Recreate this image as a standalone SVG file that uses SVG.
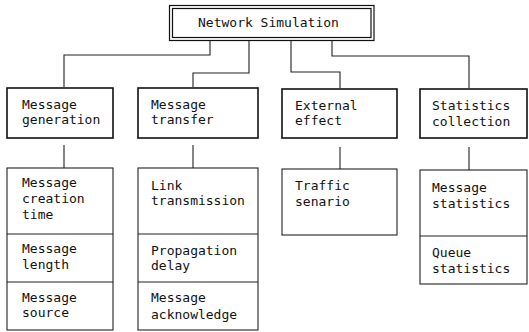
<svg xmlns="http://www.w3.org/2000/svg" width="529" height="332" viewBox="0 0 529 332">
<style>
text{font-family:"DejaVu Sans Mono","Liberation Mono",monospace;font-size:13px;fill:#111}
.main{fill:#fff;stroke:#111;stroke-width:1.6}
.sub{fill:#fff;stroke:#222;stroke-width:1.1}
.conn{fill:none;stroke:#222;stroke-width:1.1}
</style>
<rect width="529" height="332" fill="#fff"/>
<g id="root">
<rect x="169.5" y="5.5" width="204.5" height="35" fill="#fff" stroke="#111" stroke-width="1.2"/>
<rect x="172.5" y="8.5" width="198.5" height="29" fill="none" stroke="#111" stroke-width="1.2"/>
<text x="198" y="27">Network Simulation</text>
</g>
<g id="connectors">
<path class="conn" d="M210,41 V55 H64 V87"/>
<path class="conn" d="M249,41 V73 H193 V87"/>
<path class="conn" d="M291,41 V72 H340 V88"/>
<path class="conn" d="M332,41 V56 H469 V88"/>
<path class="conn" d="M64,145 V168"/>
<path class="conn" d="M193,145 V168"/>
<path class="conn" d="M340,147 V169"/>
<path class="conn" d="M469,147 V170"/>
</g>
<g id="msg-gen">
<rect class="main" x="7" y="88" width="106" height="50"/>
<text x="22" y="109">Message</text>
<text x="22" y="124">generation</text>
</g>
<g id="msg-gen-items">
<rect class="sub" x="7" y="168" width="106" height="162"/>
<line class="sub" x1="7" y1="234" x2="113" y2="234"/>
<line class="sub" x1="7" y1="282" x2="113" y2="282"/>
<text x="22" y="187">Message</text>
<text x="22" y="203">creation</text>
<text x="22" y="219">time</text>
<text x="22" y="253">Message</text>
<text x="22" y="269">length</text>
<text x="22" y="302">Message</text>
<text x="22" y="317">source</text>
</g>
<g id="msg-transfer">
<rect class="main" x="138" y="88" width="120" height="50"/>
<text x="151" y="109">Message</text>
<text x="151" y="124">transfer</text>
</g>
<g id="msg-transfer-items">
<rect class="sub" x="138" y="168" width="120" height="162"/>
<line class="sub" x1="138" y1="234" x2="258" y2="234"/>
<line class="sub" x1="138" y1="282" x2="258" y2="282"/>
<text x="151" y="190">Link</text>
<text x="151" y="205">transmission</text>
<text x="151" y="255">Propagation</text>
<text x="151" y="270">delay</text>
<text x="151" y="302">Message</text>
<text x="151" y="319">acknowledge</text>
</g>
<g id="external">
<rect class="main" x="282" y="89" width="115" height="49"/>
<text x="295" y="110">External</text>
<text x="295" y="125">effect</text>
</g>
<g id="external-items">
<rect class="sub" x="282" y="169" width="115" height="66"/>
<text x="295" y="190">Traffic</text>
<text x="295" y="206">senario</text>
</g>
<g id="stats">
<rect class="main" x="420" y="89" width="107" height="49"/>
<text x="432" y="110">Statistics</text>
<text x="432" y="126">collection</text>
</g>
<g id="stats-items">
<rect class="sub" x="420" y="170" width="107" height="114"/>
<line class="sub" x1="420" y1="236" x2="527" y2="236"/>
<text x="432" y="192">Message</text>
<text x="432" y="208">statistics</text>
<text x="432" y="257">Queue</text>
<text x="432" y="273">statistics</text>
</g>
</svg>
